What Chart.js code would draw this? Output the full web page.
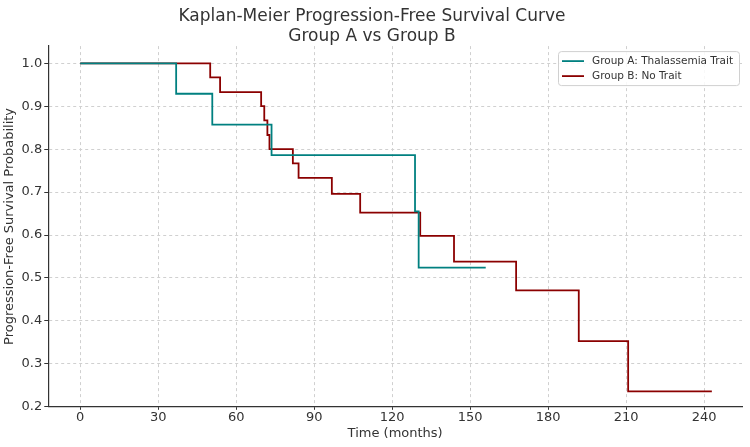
<!DOCTYPE html>
<html>
<head>
<meta charset="utf-8">
<script src="https://cdn.jsdelivr.net/npm/chart.js@4.4.1/dist/chart.umd.min.js"></script>
<style>
  html, body { margin: 0; padding: 0; background: #fff; }
  #wrap { width: 750px; height: 447px; }
</style>
</head>
<body>
<div id="wrap"><canvas id="km-chart" width="750" height="447"></canvas></div>
<script>
// Kaplan-Meier steps (time in months, survival after the event)
const groupATimes = [0, 36.9, 50.8, 73.6, 128.8, 130.2, 156];
const groupASurv = [1.0, 0.929, 0.857, 0.786, 0.655, 0.524, 0.524];

const groupBTimes = [0, 50, 53.8, 69.6, 70.8, 72, 72.8, 81.8, 84, 96.8, 107.7, 130.8, 143.8, 167.7, 191.8, 210.8, 243];
const groupBSurv = [1.0, 0.967, 0.933, 0.900, 0.867, 0.833, 0.800, 0.767, 0.733, 0.696, 0.652, 0.598, 0.538, 0.471, 0.353, 0.236, 0.236];

const xTicks = [0, 30, 60, 90, 120, 150, 180, 210, 240];
const yTicks = [0.2, 0.3, 0.4, 0.5, 0.6, 0.7, 0.8, 0.9, 1.0];

const toPoints = (xs, ys) => xs.map((x, i) => ({ x: x, y: ys[i] }));

// legend box drawn inside the plot, top right
const boxLegend = {
    id: 'boxLegend',
    afterDraw(chart) {
        const ctx = chart.ctx;
        const area = chart.chartArea;
        const sets = chart.data.datasets;
        ctx.save();
        ctx.font = '10.5px "DejaVu Sans"';
        let w = 0;
        sets.forEach(ds => { w = Math.max(w, ctx.measureText(ds.label).width); });
        const boxW = w + 40;
        const boxH = 34;
        const x0 = area.right - boxW - 3;
        const y0 = area.top + 5;
        ctx.fillStyle = 'rgba(255,255,255,0.85)';
        ctx.strokeStyle = '#d0d0d0';
        ctx.lineWidth = 1;
        ctx.beginPath();
        ctx.roundRect(x0 + 0.5, y0 + 0.5, boxW, boxH, 3);
        ctx.fill();
        ctx.stroke();
        sets.forEach((ds, i) => {
            const ly = y0 + 10 + i * 15;
            ctx.strokeStyle = ds.borderColor;
            ctx.lineWidth = 1.8;
            ctx.beginPath();
            ctx.moveTo(x0 + 4, ly);
            ctx.lineTo(x0 + 26, ly);
            ctx.stroke();
            ctx.fillStyle = '#333';
            ctx.textBaseline = 'middle';
            ctx.fillText(ds.label, x0 + 34, ly);
        });
        ctx.restore();
    }
};

const ctxKm = document.getElementById('km-chart').getContext('2d');
new Chart(ctxKm, {
    type: 'line',
    data: {
        datasets: [
            {
                label: 'Group A: Thalassemia Trait',
                data: toPoints(groupATimes, groupASurv),
                borderColor: '#008080',
                borderWidth: 1.8,
                stepped: 'before',
                pointRadius: 0,
                fill: false
            },
            {
                label: 'Group B: No Trait',
                data: toPoints(groupBTimes, groupBSurv),
                borderColor: '#8b0000',
                borderWidth: 1.8,
                stepped: 'before',
                pointRadius: 0,
                fill: false
            }
        ]
    },
    options: {
        responsive: false,
        animation: false,
        layout: { padding: { left: 2, right: 8, top: 0, bottom: 6 } },
        plugins: {
            legend: { display: false },
            tooltip: { enabled: false },
            title: {
                display: true,
                text: ['Kaplan-Meier Progression-Free Survival Curve', 'Group A vs Group B'],
                color: '#333',
                font: { family: '"DejaVu Sans"', size: 17, weight: 'normal', lineHeight: 1.15 },
                padding: { top: 7, bottom: 0 }
            }
        },
        scales: {
            x: {
                type: 'linear',
                min: -12.3,
                max: 254.6,
                afterBuildTicks: axis => { axis.ticks = xTicks.map(v => ({ value: v })); },
                ticks: { color: '#333', font: { family: '"DejaVu Sans"', size: 13 }, padding: 0 },
                grid: { color: '#d0d0d0', tickColor: '#333', tickLength: 3 },
                border: { display: true, color: '#333', width: 1.2, dash: [3, 3] },
                title: {
                    display: true,
                    text: 'Time (months)',
                    color: '#333',
                    font: { family: '"DejaVu Sans"', size: 13 },
                    padding: { top: 0, bottom: 0 }
                }
            },
            y: {
                type: 'linear',
                min: 0.2,
                max: 1.04,
                afterBuildTicks: axis => { axis.ticks = yTicks.map(v => ({ value: v })); },
                ticks: {
                    color: '#333',
                    font: { family: '"DejaVu Sans"', size: 13 },
                    padding: 2,
                    callback: v => v.toFixed(1)
                },
                grid: { color: '#d0d0d0', tickColor: '#333', tickLength: 4 },
                border: { display: true, color: '#333', width: 1.2, dash: [3, 3] },
                title: {
                    display: true,
                    text: 'Progression-Free Survival Probability',
                    color: '#333',
                    font: { family: '"DejaVu Sans"', size: 13 },
                    padding: { top: 0, bottom: 2 }
                }
            }
        }
    },
    plugins: [boxLegend]
});
</script>
</body>
</html>
